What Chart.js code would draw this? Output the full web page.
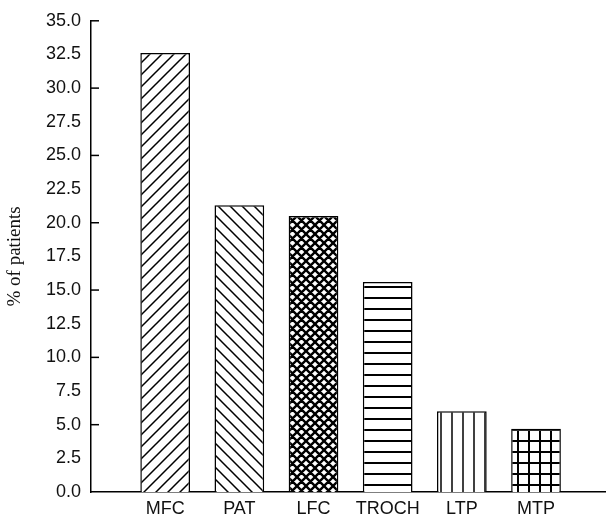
<!DOCTYPE html>
<html><head><meta charset="utf-8">
<script src="https://cdn.jsdelivr.net/npm/chart.js@4"></script>
<style>html,body{margin:0;padding:0;background:#fff}#wrap{width:608px;height:522px}</style>
</head><body><div id="wrap"><canvas id="c" width="608" height="522"></canvas></div>
<script>
const categories = ['MFC', 'PAT', 'LFC', 'TROCH', 'LTP', 'MTP'];
const values = [32.6, 21.3, 20.5, 15.6, 6.0, 4.7];
const patternKinds = ['fwd', 'back', 'cross', 'horiz', 'vert', 'grid'];
const yTickStep = 2.5;
const yMarkStep = 5;
const yMax = 35;

function makePattern(kind) {
  const c = document.createElement('canvas');
  const ctx = c.getContext('2d');
  let s = 12;
  if (kind === 'cross') s = 9;
  if (kind === 'horiz' || kind === 'vert' || kind === 'grid') s = 11;
  c.width = s; c.height = s;
  ctx.fillStyle = '#fff'; ctx.fillRect(0, 0, s, s);
  ctx.strokeStyle = '#000';
  ctx.lineWidth = 1.5;
  ctx.beginPath();
  if (kind === 'fwd' || kind === 'cross') {
    ctx.moveTo(-s, 2 * s); ctx.lineTo(2 * s, -s);
    ctx.moveTo(-s, s); ctx.lineTo(s, -s);
    ctx.moveTo(0, 2 * s); ctx.lineTo(2 * s, 0);
  }
  if (kind === 'back' || kind === 'cross') {
    ctx.moveTo(-s, -s); ctx.lineTo(2 * s, 2 * s);
    ctx.moveTo(-s, 0); ctx.lineTo(s, 2 * s);
    ctx.moveTo(0, -s); ctx.lineTo(2 * s, s);
  }
  if (kind === 'horiz' || kind === 'grid') {
    ctx.moveTo(0, 1); ctx.lineTo(s, 1);
  }
  if (kind === 'vert' || kind === 'grid') {
    ctx.moveTo(1, 0); ctx.lineTo(1, s);
  }
  if (kind === 'cross') ctx.lineWidth = 2.4;
  if (kind === 'grid' || kind === 'horiz') ctx.lineWidth = 2;
  ctx.stroke();
  return ctx.createPattern(c, 'repeat');
}

const tickMarks = {
  id: 'tickMarks',
  afterDraw(chart) {
    const y = chart.scales.y, ctx = chart.ctx, left = chart.chartArea.left;
    ctx.save();
    ctx.strokeStyle = '#000'; ctx.lineWidth = 1.5;
    for (let v = yMarkStep; v <= yMax; v += yMarkStep) {
      const py = y.getPixelForValue(v);
      ctx.beginPath(); ctx.moveTo(left - 1, py); ctx.lineTo(left + 8, py); ctx.stroke();
    }
    ctx.restore();
  }
};

new Chart(document.getElementById('c'), {
  type: 'bar',
  data: {
    datasets: [{
      data: categories.map((c, i) => ({ x: i + 1, y: values[i] })),
      backgroundColor: patternKinds.map(makePattern),
      borderColor: '#000',
      borderWidth: 1.5,
      barPercentage: 0.67,
      categoryPercentage: 1
    }]
  },
  plugins: [tickMarks],
  options: {
    responsive: false,
    animation: false,
    layout: { padding: { top: 20, right: 3, left: 0, bottom: 0 } },
    plugins: { legend: { display: false }, tooltip: { enabled: false } },
    scales: {
      x: {
        type: 'linear',
        offset: false,
        min: 0, max: 6.93,
        grid: { display: false, drawTicks: false, offset: false },
        border: { display: true, color: '#000', width: 1.5 },
        afterBuildTicks: s => { s.ticks = categories.map((_, i) => ({ value: i + 1 })); },
        afterFit: s => { s.height = 30; },
        ticks: {
          padding: 6,
          color: '#111',
          font: { family: 'Liberation Sans, Arial', size: 18 },
          callback: v => categories[v - 1] || ''
        }
      },
      y: {
        min: 0, max: yMax,
        grid: { display: false, drawTicks: false },
        border: { display: true, color: '#000', width: 1.5 },
        afterFit: s => { s.width = 91; },
        ticks: {
          stepSize: yTickStep,
          padding: 10,
          color: '#111',
          font: { family: 'Liberation Sans, Arial', size: 18 },
          callback: v => Number(v).toFixed(1)
        },
        title: {
          display: true,
          text: '% of patients',
          color: '#111',
          padding: { top: 4, bottom: 0 },
          font: { family: 'Liberation Serif, Times New Roman', size: 19 }
        }
      }
    }
  }
});
</script></body></html>
